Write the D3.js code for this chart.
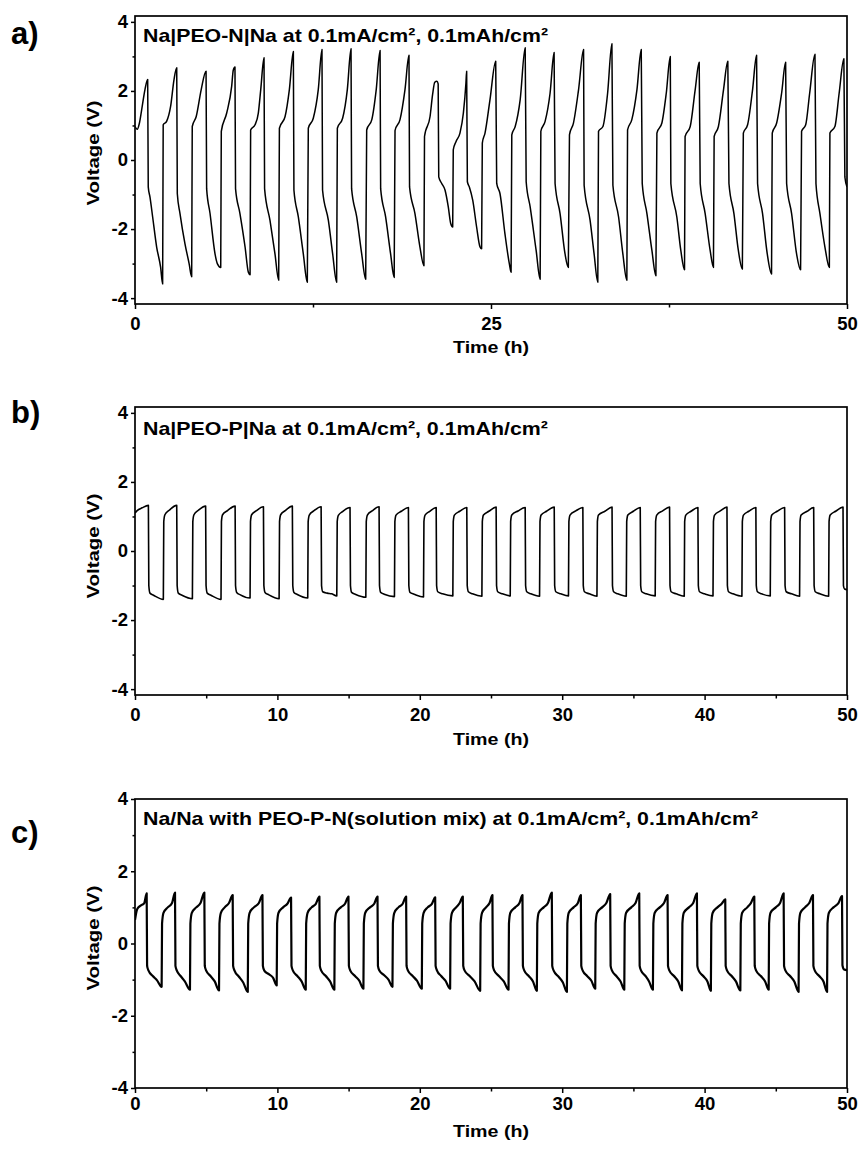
<!DOCTYPE html>
<html>
<head>
<meta charset="utf-8">
<script src="https://cdn.jsdelivr.net/npm/d3@7"></script>
<style>
body { margin: 0; background: #fff; }
text { font-family: "Liberation Sans", Arial, sans-serif; font-weight: bold; fill: #000; }
</style>
</head>
<body>
<svg id="chart"></svg>
<script>
// panel a: Na|PEO-N|Na  [time (h), voltage (V)]
var cycA = [
	[0,0.97],[0.16,0.89],[0.3,1.05],[0.47,1.46],[0.7,2.04],[0.89,2.33],
	[0.93,-0.78],[1.05,-1.07],[1.24,-1.65],[1.52,-2.52],[1.8,-3.11],[1.94,-3.59],
	[1.98,1.02],[2.22,1.12],[2.5,1.55],[2.74,2.33],[2.93,2.67],
	[2.97,-0.97],[3.16,-1.55],[3.51,-2.43],[3.8,-3.0],[3.98,-3.38],
	[4.02,0.97],[4.3,1.26],[4.65,2.04],[4.99,2.57],
	[5.03,-0.83],[5.27,-1.55],[5.62,-2.72],[5.78,-3.0],[6.02,-3.11],
	[6.06,0.83],[6.44,1.36],[6.79,2.14],[6.9,2.6],[7.02,2.69],
	[7.06,-0.83],[7.37,-1.55],[7.73,-2.52],[7.96,-3.25],[8.08,-3.32],
	[8.12,0.87],[8.43,1.02],[8.66,1.36],[8.83,2.04],[9.06,2.96],
	[9.1,-0.83],[9.48,-1.75],[9.83,-2.72],[10.09,-3.48],
	[10.14,0.92],[10.54,1.26],[10.84,2.04],[11.12,3.14],
	[11.16,-0.87],[11.47,-1.65],[11.82,-2.72],[12.1,-3.54],
	[12.17,0.92],[12.52,1.21],[12.87,2.04],[13.13,3.2],
	[13.17,-0.87],[13.58,-1.75],[13.88,-2.72],[14.16,-3.54],
	[14.21,0.92],[14.58,1.21],[14.91,2.04],[15.17,3.22],
	[15.21,-0.83],[15.57,-1.65],[15.92,-2.72],[16.2,-3.45],
	[16.27,0.87],[16.63,1.17],[16.94,2.04],[17.21,3.17],
	[17.25,-0.83],[17.6,-1.65],[17.95,-2.72],[18.2,-3.4],
	[18.26,0.85],[18.61,1.17],[18.96,2.04],[19.24,3.03],
	[19.28,-0.78],[19.66,-1.55],[20.01,-2.52],[20.29,-3.06],
	[20.33,0.68],[20.72,1.26],[20.9,1.9],[21.05,2.25],[21.2,2.28],[21.29,2.2],
	[21.33,-0.49],[21.54,-0.68],[21.77,-0.87],[22.0,-1.36],[22.17,-1.84],[22.31,-1.94],
	[22.35,0.29],[22.54,0.53],[22.82,0.78],[23.06,1.36],[23.24,2.23],[23.29,2.57],
	[23.34,-0.63],[23.48,-0.78],[23.72,-1.17],[23.99,-1.94],[24.23,-2.52],[24.34,-2.57],
	[24.39,0.49],[24.58,0.78],[24.93,1.75],[25.33,2.86],
	[25.4,-0.68],[25.63,-0.97],[25.98,-2.14],[26.29,-3.01],[26.41,-3.25],
	[26.46,0.73],[26.7,0.97],[27.05,1.75],[27.4,3.25],
	[27.47,-0.63],[27.75,-1.36],[28.17,-2.62],[28.45,-3.45],
	[28.5,0.83],[28.8,1.12],[29.15,1.94],[29.43,3.11],
	[29.5,-0.68],[29.85,-1.55],[30.2,-2.72],[30.43,-3.11],
	[30.51,0.73],[30.79,1.07],[31.15,2.04],[31.5,3.2],
	[31.54,-0.73],[31.96,-1.75],[32.24,-2.72],[32.5,-3.54],
	[32.55,0.83],[32.86,0.97],[33.19,1.94],[33.49,3.37],
	[33.56,-0.73],[33.96,-1.65],[34.26,-2.72],[34.54,-3.48],
	[34.59,0.87],[34.89,1.17],[35.25,2.04],[35.55,3.2],
	[35.62,-0.68],[35.95,-1.55],[36.3,-2.62],[36.58,-3.35],
	[36.65,0.78],[37.0,1.07],[37.31,1.94],[37.59,3.0],
	[37.63,-0.68],[38.05,-1.65],[38.33,-2.62],[38.59,-3.18],
	[38.63,0.68],[38.99,0.97],[39.34,2.04],[39.62,2.83],
	[39.69,-0.68],[40.04,-1.55],[40.39,-2.62],[40.62,-3.11],
	[40.67,0.68],[40.97,0.97],[41.33,2.04],[41.63,2.86],
	[41.71,-0.68],[42.06,-1.55],[42.37,-2.62],[42.65,-3.16],
	[42.72,0.78],[43.02,1.02],[43.37,2.04],[43.65,3.03],
	[43.72,-0.68],[44.07,-1.55],[44.4,-2.72],[44.7,-3.3],
	[44.75,0.78],[45.06,1.07],[45.41,1.94],[45.69,2.83],
	[45.76,-0.68],[46.11,-1.55],[46.46,-2.72],[46.74,-3.18],
	[46.81,0.83],[47.1,1.02],[47.38,1.94],[47.75,3.06],
	[47.82,-0.68],[48.1,-1.55],[48.45,-2.52],[48.76,-3.11],
	[48.8,0.78],[49.15,0.97],[49.45,1.94],[49.78,2.93],
	[49.85,-0.49],[50,-0.78]
];

// panel b: Na|PEO-P|Na
var cycB = [
	[0,1.10],[0.15,1.17],[0.5,1.25],[0.94,1.32],
	[0.97,-1.0],[1.05,-1.22],[1.3,-1.28],[1.99,-1.40],
	[2.02,0.85],[2.1,1.05],[2.4,1.18],[2.93,1.32],
	[2.96,-1.0],[3.04,-1.22],[3.3,-1.28],[4.03,-1.38],
	[4.06,0.85],[4.14,1.05],[4.45,1.18],[4.96,1.30],
	[4.99,-1.0],[5.07,-1.22],[5.33,-1.28],[6.04,-1.40],
	[6.07,0.85],[6.15,1.05],[6.5,1.17],[7.03,1.30],
	[7.06,-1.0],[7.14,-1.2],[7.4,-1.27],[8.08,-1.36],
	[8.11,0.85],[8.19,1.05],[8.5,1.16],[9.02,1.28],
	[9.05,-1.0],[9.13,-1.2],[9.4,-1.27],[10.12,-1.38],
	[10.15,0.85],[10.23,1.05],[10.55,1.17],[11.05,1.30],
	[11.08,-1.0],[11.16,-1.2],[11.4,-1.26],[12.13,-1.36],
	[12.16,0.85],[12.24,1.04],[12.55,1.16],[13.07,1.28],
	[13.1,-1.0],[13.18,-1.18],[13.5,-1.22],[13.8,-1.24],[14.17,-1.30],
	[14.2,0.85],[14.28,1.03],[14.6,1.15],[15.1,1.26],
	[15.13,-1.0],[15.21,-1.2],[15.5,-1.26],[16.21,-1.34],
	[16.24,0.85],[16.32,1.04],[16.65,1.16],[17.14,1.28],
	[17.17,-1.0],[17.25,-1.2],[17.5,-1.25],[18.22,-1.32],
	[18.25,0.85],[18.33,1.04],[18.7,1.15],[19.2,1.26],
	[19.23,-1.0],[19.31,-1.2],[19.6,-1.25],[20.26,-1.33],
	[20.29,0.85],[20.37,1.04],[20.7,1.15],[21.15,1.26],
	[21.18,-1.0],[21.26,-1.18],[21.6,-1.24],[22.32,-1.30],
	[22.35,0.85],[22.43,1.04],[22.8,1.15],[23.3,1.26],
	[23.33,-1.0],[23.41,-1.18],[23.7,-1.24],[24.36,-1.31],
	[24.39,0.85],[24.47,1.04],[24.85,1.15],[25.36,1.27],
	[25.39,-1.0],[25.47,-1.18],[25.8,-1.24],[26.35,-1.30],
	[26.38,0.85],[26.46,1.04],[26.9,1.16],[27.4,1.26],
	[27.43,-1.0],[27.51,-1.18],[27.8,-1.24],[28.41,-1.31],
	[28.44,0.85],[28.52,1.04],[28.9,1.15],[29.44,1.27],
	[29.47,-1.0],[29.55,-1.18],[29.9,-1.24],[30.44,-1.30],
	[30.47,0.85],[30.55,1.04],[30.95,1.16],[31.45,1.26],
	[31.48,-1.0],[31.56,-1.18],[31.9,-1.24],[32.44,-1.31],
	[32.47,0.85],[32.55,1.04],[33.0,1.15],[33.5,1.27],
	[33.53,-1.0],[33.61,-1.18],[33.9,-1.24],[34.5,-1.31],
	[34.53,0.85],[34.61,1.04],[35.0,1.15],[35.48,1.26],
	[35.51,-1.0],[35.59,-1.18],[35.9,-1.24],[36.53,-1.30],
	[36.56,0.85],[36.64,1.04],[37.05,1.16],[37.54,1.27],
	[37.57,-1.0],[37.65,-1.18],[38.0,-1.24],[38.57,-1.31],
	[38.6,0.85],[38.68,1.04],[39.05,1.15],[39.53,1.26],
	[39.56,-1.0],[39.64,-1.18],[40.0,-1.24],[40.59,-1.30],
	[40.62,0.85],[40.7,1.04],[41.1,1.16],[41.57,1.27],
	[41.6,-1.0],[41.68,-1.18],[42.0,-1.24],[42.62,-1.31],
	[42.65,0.85],[42.73,1.04],[43.1,1.15],[43.6,1.26],
	[43.63,-1.0],[43.71,-1.18],[44.0,-1.24],[44.61,-1.30],
	[44.64,0.85],[44.72,1.04],[45.1,1.15],[45.62,1.26],
	[45.65,-1.0],[45.73,-1.18],[46.1,-1.24],[46.67,-1.31],
	[46.7,0.85],[46.78,1.04],[47.2,1.15],[47.66,1.26],
	[47.69,-1.0],[47.77,-1.18],[48.1,-1.24],[48.71,-1.31],
	[48.74,0.85],[48.82,1.04],[49.2,1.15],[49.72,1.27],
	[49.75,-1.0],[49.83,-1.1],[50,-1.12]
];

// panel c: Na/Na with PEO-P-N (solution mix)
var cycC = [
	[0,0.65],[0.15,0.95],[0.4,1.05],[0.65,1.12],[0.82,1.39],
	[0.85,-0.62],[0.95,-0.75],[1.25,-0.9],[1.55,-1.02],[1.87,-1.2],
	[1.9,0.55],[2.0,0.85],[2.3,1.0],[2.6,1.12],[2.81,1.41],
	[2.84,-0.62],[2.94,-0.75],[3.2,-0.9],[3.5,-1.05],[3.86,-1.28],
	[3.89,0.55],[3.99,0.85],[4.3,1.0],[4.6,1.12],[4.87,1.41],
	[4.9,-0.62],[5.0,-0.75],[5.3,-0.9],[5.6,-1.05],[5.9,-1.3],
	[5.93,0.55],[6.03,0.85],[6.3,1.0],[6.6,1.12],[6.86,1.34],
	[6.89,-0.62],[6.99,-0.75],[7.3,-0.92],[7.6,-1.08],[7.92,-1.34],
	[7.95,0.55],[8.05,0.85],[8.35,1.0],[8.7,1.12],[8.95,1.34],
	[8.98,-0.62],[9.08,-0.75],[9.4,-0.85],[9.7,-0.95],[9.95,-1.16],
	[9.98,0.55],[10.08,0.85],[10.4,1.0],[10.7,1.1],[10.96,1.27],
	[10.99,-0.62],[11.09,-0.75],[11.4,-0.9],[11.7,-1.05],[11.99,-1.28],
	[12.02,0.55],[12.12,0.85],[12.4,1.0],[12.7,1.1],[12.95,1.3],
	[12.98,-0.62],[13.08,-0.75],[13.4,-0.9],[13.7,-1.05],[14.0,-1.28],
	[14.03,0.55],[14.13,0.85],[14.45,1.0],[14.75,1.1],[14.99,1.3],
	[15.02,-0.62],[15.12,-0.75],[15.45,-0.9],[15.75,-1.03],[16.04,-1.25],
	[16.07,0.55],[16.17,0.85],[16.5,1.0],[16.8,1.1],[17.03,1.3],
	[17.06,-0.62],[17.16,-0.75],[17.5,-0.88],[17.8,-1.0],[18.08,-1.2],
	[18.11,0.55],[18.21,0.85],[18.5,1.0],[18.8,1.1],[19.04,1.3],
	[19.07,-0.62],[19.17,-0.75],[19.5,-0.9],[19.8,-1.03],[20.14,-1.25],
	[20.17,0.55],[20.27,0.85],[20.55,1.0],[20.85,1.1],[21.08,1.28],
	[21.11,-0.62],[21.21,-0.75],[21.5,-0.9],[21.8,-1.03],[22.13,-1.25],
	[22.16,0.55],[22.26,0.85],[22.55,1.0],[22.8,1.12],[23.02,1.3],
	[23.05,-0.62],[23.15,-0.75],[23.5,-0.9],[23.85,-1.05],[24.24,-1.31],
	[24.27,0.55],[24.37,0.85],[24.65,1.0],[24.9,1.12],[25.1,1.34],
	[25.13,-0.62],[25.23,-0.75],[25.55,-0.9],[25.9,-1.05],[26.23,-1.28],
	[26.26,0.55],[26.36,0.85],[26.7,1.0],[27.0,1.12],[27.21,1.34],
	[27.24,-0.62],[27.34,-0.75],[27.65,-0.9],[27.95,-1.05],[28.22,-1.31],
	[28.25,0.55],[28.35,0.85],[28.7,1.0],[29.0,1.12],[29.27,1.41],
	[29.3,-0.62],[29.4,-0.75],[29.75,-0.92],[30.05,-1.08],[30.33,-1.34],
	[30.36,0.55],[30.46,0.85],[30.8,1.0],[31.1,1.12],[31.31,1.34],
	[31.34,-0.62],[31.44,-0.75],[31.75,-0.9],[32.05,-1.03],[32.32,-1.25],
	[32.35,0.55],[32.45,0.85],[32.8,1.0],[33.1,1.12],[33.37,1.37],
	[33.4,-0.62],[33.5,-0.75],[33.8,-0.9],[34.1,-1.05],[34.36,-1.28],
	[34.39,0.55],[34.49,0.85],[34.85,1.0],[35.15,1.12],[35.41,1.39],
	[35.44,-0.62],[35.54,-0.75],[35.85,-0.9],[36.1,-1.05],[36.37,-1.28],
	[36.4,0.55],[36.5,0.85],[36.85,1.0],[37.15,1.12],[37.4,1.34],
	[37.43,-0.62],[37.53,-0.75],[37.85,-0.9],[38.15,-1.05],[38.41,-1.3],
	[38.44,0.55],[38.54,0.85],[38.9,1.0],[39.2,1.12],[39.46,1.39],
	[39.49,-0.62],[39.59,-0.75],[39.9,-0.9],[40.2,-1.05],[40.44,-1.31],
	[40.47,0.55],[40.57,0.85],[40.9,1.0],[41.2,1.1],[41.45,1.22],
	[41.48,-0.62],[41.58,-0.75],[41.9,-0.9],[42.2,-1.05],[42.51,-1.3],
	[42.54,0.55],[42.64,0.85],[43.0,1.0],[43.25,1.12],[43.49,1.3],
	[43.52,-0.62],[43.62,-0.75],[43.95,-0.9],[44.25,-1.05],[44.5,-1.28],
	[44.53,0.55],[44.63,0.85],[45.0,1.0],[45.3,1.12],[45.55,1.39],
	[45.58,-0.62],[45.68,-0.75],[46.0,-0.9],[46.3,-1.05],[46.6,-1.34],
	[46.63,0.55],[46.73,0.85],[47.05,1.0],[47.35,1.12],[47.61,1.34],
	[47.64,-0.62],[47.74,-0.75],[48.05,-0.9],[48.35,-1.05],[48.6,-1.34],
	[48.63,0.55],[48.73,0.85],[49.05,1.0],[49.4,1.12],[49.65,1.31],
	[49.68,-0.6],[49.8,-0.72],[50,-0.74]
];

var titles = [
	"Na|PEO-N|Na at 0.1mA/cm², 0.1mAh/cm²",
	"Na|PEO-P|Na at 0.1mA/cm², 0.1mAh/cm²",
	"Na/Na with PEO-P-N(solution mix) at 0.1mA/cm², 0.1mAh/cm²"
];
var panelLabels = ["a)", "b)", "c)"];
var xMajorA = [0, 25, 50];
var xMinorA = [12.5, 37.5];
var xMajorBC = [0, 10, 20, 30, 40, 50];
var xMinorBC = [5, 15, 25, 35, 45];
var yMajor = [-4, -2, 0, 2, 4];
var yMinor = [-3, -1, 1, 3];

var W = 861, H = 1150;
var left = 135, right = 847;

var panels = [
	{data: cycA, xMajor: xMajorA, xMinor: xMinorA, yDom: [-4.17, 4.17], top: 16, bottom: 304,
	 labelY: 44, titleY: 42, titleW: 405, tickPad: 8, timeY: 353, voltY: 153, lw: 1.5},
	{data: cycB, xMajor: xMajorBC, xMinor: xMinorBC, yDom: [-4.17, 4.17], top: 407, bottom: 695,
	 labelY: 423, titleY: 435, titleW: 405, tickPad: 8, timeY: 745, voltY: 546, lw: 1.6},
	{data: cycC, xMajor: xMajorBC, xMinor: xMinorBC, yDom: [-4, 4], top: 799, bottom: 1088,
	 labelY: 843, titleY: 825, titleW: 615, tickPad: 4, timeY: 1137, voltY: 938, lw: 2.2}
];

var svg = d3.select("#chart").attr("width", W).attr("height", H);

panels.forEach(function(p, i) {
	var x = d3.scaleLinear().domain([0, 50]).range([left, right]);
	var y = d3.scaleLinear().domain(p.yDom).range([p.bottom, p.top]);
	var g = svg.append("g").attr("class", "panel");

	// clip
	g.append("clipPath").attr("id", "clip" + i)
		.append("rect").attr("x", left).attr("y", p.top)
		.attr("width", right - left).attr("height", p.bottom - p.top);

	// minor ticks first
	g.append("g").attr("transform", "translate(0," + p.bottom + ")")
		.call(d3.axisBottom(x).tickValues(p.xMinor).tickSize(3.5).tickFormat(""))
		.call(function(a) { a.select(".domain").remove(); a.selectAll("line").attr("stroke-width", 1.5); });
	g.append("g").attr("transform", "translate(" + left + ",0)")
		.call(d3.axisLeft(y).tickValues(yMinor).tickSize(2.5).tickFormat(""))
		.call(function(a) { a.select(".domain").remove(); a.selectAll("line").attr("stroke-width", 1.5); });

	// major ticks + labels
	var xa = g.append("g").attr("transform", "translate(0," + p.bottom + ")")
		.call(d3.axisBottom(x).tickValues(p.xMajor).tickSize(5).tickPadding(p.tickPad)
			.tickFormat(function(d) { return String(d); }));
	xa.select(".domain").remove();
	xa.selectAll("line").attr("stroke-width", 1.5);
	xa.selectAll("text").attr("font-size", 18.5).attr("font-family", null);

	var ya = g.append("g").attr("transform", "translate(" + left + ",0)")
		.call(d3.axisLeft(y).tickValues(yMajor).tickSize(4).tickPadding(3)
			.tickFormat(function(d) { return String(d); }));
	ya.select(".domain").remove();
	ya.selectAll("line").attr("stroke-width", 1.5);
	ya.selectAll("text").attr("font-size", 18.5).attr("font-family", null);

	// data line
	var line = d3.line()
		.x(function(d) { return x(d[0]); })
		.y(function(d) { return y(d[1]); })
		.curve(d3.curveMonotoneX);
	g.append("path")
		.datum(p.data)
		.attr("clip-path", "url(#clip" + i + ")")
		.attr("fill", "none")
		.attr("stroke", "#000")
		.attr("stroke-width", p.lw)
		.attr("stroke-linejoin", "round")
		.attr("d", line);

	// frame
	g.append("rect")
		.attr("x", left).attr("y", p.top)
		.attr("width", right - left).attr("height", p.bottom - p.top)
		.attr("fill", "none").attr("stroke", "#000").attr("stroke-width", 1.7);

	// inner title
	g.append("text")
		.attr("x", left + 8).attr("y", p.titleY)
		.attr("font-size", 18.5)
		.attr("textLength", p.titleW).attr("lengthAdjust", "spacingAndGlyphs")
		.text(titles[i]);

	// axis titles
	g.append("text")
		.attr("x", (left + right) / 2).attr("y", p.timeY)
		.attr("text-anchor", "middle").attr("font-size", 17)
		.attr("textLength", 76).attr("lengthAdjust", "spacingAndGlyphs")
		.text("Time (h)");
	g.append("text")
		.attr("transform", "translate(99," + p.voltY + ") rotate(-90)")
		.attr("text-anchor", "middle").attr("font-size", 17)
		.attr("textLength", 105).attr("lengthAdjust", "spacingAndGlyphs")
		.text("Voltage (V)");

	// panel label
	g.append("text")
		.attr("x", 11).attr("y", p.labelY)
		.attr("font-size", 31)
		.text(panelLabels[i]);
});
</script>
</body>
</html>
